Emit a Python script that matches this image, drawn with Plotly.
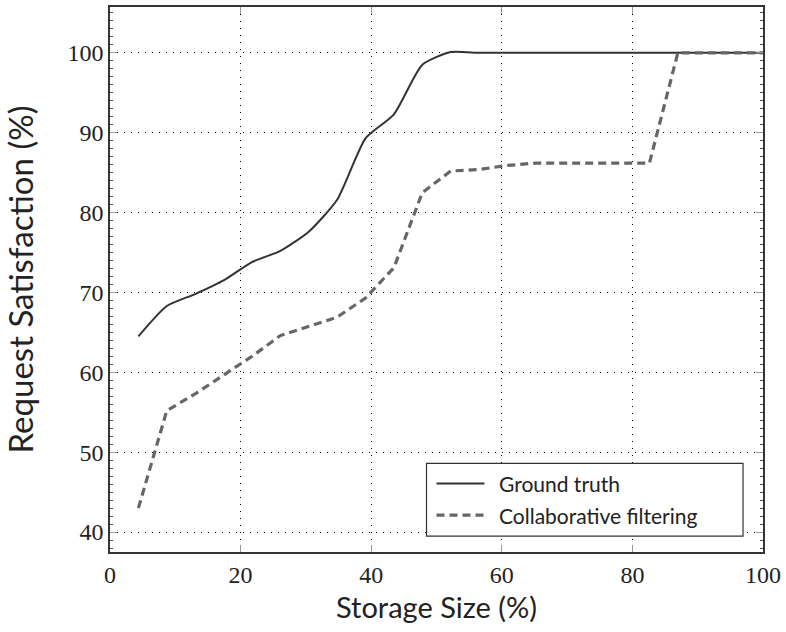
import plotly.graph_objects as go

# Storage size sample points (%)
storage_size = [4.35, 8.70, 13.04, 17.39, 21.74, 26.09, 30.43, 34.78, 39.13, 43.48,
                47.83, 52.17, 56.52, 60.87, 65.22, 69.57, 73.91, 78.26, 82.61, 86.96,
                91.30, 95.65, 100.0]

# Request satisfaction (%) per method
ground_truth = [64.5, 68.3, 69.8, 71.5, 73.8, 75.2, 77.6, 81.6, 89.3, 92.3,
                98.5, 100.1, 100.0, 100.0, 100.0, 100.0, 100.0, 100.0, 100.0, 100.0,
                100.0, 100.0, 100.0]
collab_filtering = [43.0, 55.2, 57.3, 59.7, 62.0, 64.6, 65.8, 66.9, 69.3, 73.1,
                    82.5, 85.2, 85.4, 85.9, 86.2, 86.2, 86.2, 86.2, 86.2, 100.0,
                    100.0, 100.0, 100.0]

series_names = ["Ground truth", "Collaborative filtering"]
x_ticks = [0, 20, 40, 60, 80, 100]
y_ticks = [40, 50, 60, 70, 80, 90, 100]

SANS = "Lato, 'Open Sans', sans-serif"
SERIF = "'Liberation Serif', 'DejaVu Serif', serif"
TEXT = "#222222"

solid_style = dict(color="#333333", width=2)
dash_style = dict(color="#666666", width=3.2, dash="8px,5px")

fig = go.Figure()
fig.add_trace(go.Scatter(
    x=storage_size, y=ground_truth, mode="lines", name=series_names[0],
    line=dict(shape="spline", smoothing=0.6, **solid_style), showlegend=False,
))
fig.add_trace(go.Scatter(
    x=storage_size, y=collab_filtering, mode="lines", name=series_names[1],
    line=dict(**dash_style), showlegend=False,
))

axis_common = dict(
    showline=True, linecolor="#333333", linewidth=1.5, mirror="allticks",
    ticks="inside", ticklen=7, tickcolor="#999999", tickwidth=1,
    showgrid=True, gridcolor="#000000", gridwidth=1, griddash="1px,6px",
    zeroline=False, tickfont=dict(family=SERIF, size=24, color=TEXT),
)

fig.update_xaxes(
    range=[0, 100], tickvals=x_ticks, ticktext=[str(v) for v in x_ticks],
    title=dict(text="Storage Size (%)", font=dict(family=SANS, size=29, color=TEXT),
               standoff=11),
    **axis_common,
)
fig.update_yaxes(
    range=[37.5, 105.74], tickvals=y_ticks, ticktext=[str(v) for v in y_ticks],
    minor=dict(dtick=1, ticks="inside", ticklen=3, tickcolor="#555555", showgrid=False),
    title=dict(text="Request Satisfaction (%)", font=dict(family=SANS, size=33, color=TEXT),
               standoff=26),
    **axis_common,
)

# Legend box drawn in paper coordinates, lower right of the plot area
box_x0, box_x1 = 0.4847, 0.9694
box_y0, box_y1 = 0.0293, 0.1627
sample_x0, sample_x1 = 0.5000, 0.5734
text_x = 0.5933
row_y = [0.1256, 0.0676]

fig.add_shape(type="rect", xref="paper", yref="paper",
              x0=box_x0, x1=box_x1, y0=box_y0, y1=box_y1,
              line=dict(color="#333333", width=1.2), fillcolor="white", layer="above")
for name, style, yy in zip(series_names, [solid_style, dash_style], row_y):
    fig.add_shape(type="line", xref="paper", yref="paper",
                  x0=sample_x0, x1=sample_x1, y0=yy, y1=yy, line=style, layer="above")
    fig.add_annotation(xref="paper", yref="paper", x=text_x, y=yy, text=name,
                       showarrow=False, xanchor="left", yanchor="middle",
                       font=dict(family=SANS, size=21, color=TEXT))

fig.update_layout(
    width=786, height=632,
    margin=dict(l=110, r=22, t=5, b=80),
    paper_bgcolor="white", plot_bgcolor="white",
    showlegend=False,
)

fig.write_html("out.html")
